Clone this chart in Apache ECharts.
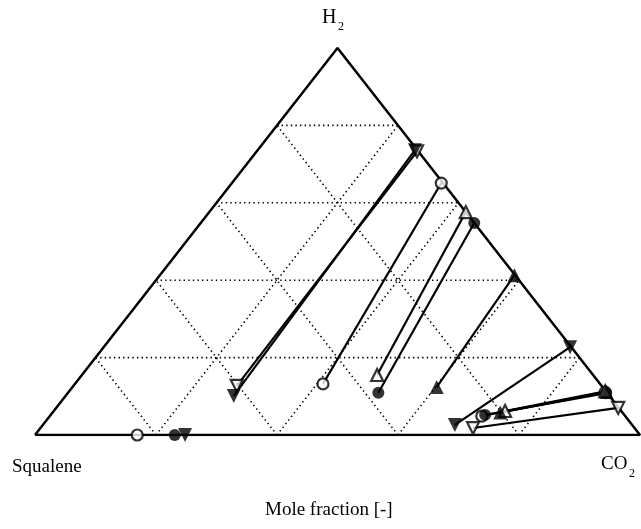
<!DOCTYPE html>
<html>
<head>
<meta charset="utf-8">
<script src="https://cdn.jsdelivr.net/npm/echarts@6/dist/echarts.min.js"></script>
<style>
  html, body { margin: 0; padding: 0; background: #fff; }
  #chart { width: 641px; height: 529px; }
</style>
</head>
<body>
<div id="chart"></div>
<script>
// Ternary phase diagram: H2 (top), Squalene (bottom left), CO2 (bottom right).
// Each composition is given as [H2, CO2] mole fractions; Squalene = 1 - H2 - CO2.

const gridLevels = [0.2, 0.4, 0.6, 0.8];

// Tie lines: liquid-phase composition and coexisting gas-phase composition.
const fullDownLiquid = [[0.101, 0.278], [0.026, 0.681]];
const fullDownGas    = [[0.736, 0.260], [0.227, 0.771]];

const openDownLiquid = [[0.127, 0.270], [0.018, 0.715]];
const openDownGas    = [[0.733, 0.265], [0.070, 0.929]];

const openCircleLiquid = [[0.132, 0.410], [0.049, 0.714]];
const openCircleGas    = [[0.651, 0.346], [0.111, 0.887]];

const fullCircleLiquid = [[0.109, 0.513], [0.052, 0.718]];
const fullCircleGas    = [[0.548, 0.452], [0.108, 0.890]];

const openUpLiquid = [[0.155, 0.488], [0.062, 0.746]];
const openUpGas    = [[0.576, 0.424], [0.113, 0.886]];

const fullUpLiquid = [[0.124, 0.602], [0.058, 0.740]];
const fullUpGas    = [[0.413, 0.586], [0.111, 0.889]];

// CO2 solubility in squalene without H2 (points on the Squalene-CO2 edge).
const binaryOpenCircle = [[0, 0.169]];
const binaryFullCircle = [[0, 0.231]];
const binaryFullDown   = [[0, 0.248]];

// ternary [H2, CO2] -> cartesian data coordinates of the triangle
function toXY(p) {
  const h = p[0], c = p[1];
  return [c + h / 2, h];
}

const series = [];

// dotted grid lines
gridLevels.forEach(function (k) {
  const segs = [
    [[k, 0], [k, 1 - k]],          // horizontal: H2 = k
    [[0, k], [1 - k, k]],          // CO2 = k
    [[0, 1 - k], [1 - k, 0]]       // Squalene = k
  ];
  segs.forEach(function (s) {
    series.push({
      type: 'line', silent: true, symbol: 'none', animation: false,
      data: s.map(toXY),
      lineStyle: { color: '#000', width: 1.6, type: [1.4, 3.2] },
      z: 1
    });
  });
});

// triangle frame
series.push({
  type: 'line', silent: true, symbol: 'none', animation: false,
  data: [[0, 0], [0, 1], [1, 0], [0, 0]].map(toXY),
  lineStyle: { color: '#000', width: 2.5 },
  z: 2
});

const markerSets = [
  { liq: fullDownLiquid, gas: fullDownGas, bin: binaryFullDown, symbol: 'triangle', rotate: 180, filled: true, size: 14, z: 6 },
  { liq: openDownLiquid, gas: openDownGas, bin: [], symbol: 'triangle', rotate: 180, filled: false, size: 12, z: 4 },
  { liq: openCircleLiquid, gas: openCircleGas, bin: binaryOpenCircle, symbol: 'circle', rotate: 0, filled: false, size: 11, z: 4 },
  { liq: fullCircleLiquid, gas: fullCircleGas, bin: binaryFullCircle, symbol: 'circle', rotate: 0, filled: true, size: 12, z: 4 },
  { liq: openUpLiquid, gas: openUpGas, bin: [], symbol: 'triangle', rotate: 0, filled: false, size: 12, z: 4 },
  { liq: fullUpLiquid, gas: fullUpGas, bin: [], symbol: 'triangle', rotate: 0, filled: true, size: 14, z: 5 }
];

markerSets.forEach(function (m) {
  m.liq.forEach(function (l, i) {
    series.push({
      type: 'line', silent: true, symbol: 'none', animation: false,
      data: [toXY(l), toXY(m.gas[i])],
      lineStyle: { color: '#000', width: 2.2 },
      z: 3
    });
  });
  series.push({
    type: 'scatter', animation: false,
    symbol: m.symbol, symbolRotate: m.rotate, symbolSize: m.size,
    data: m.liq.concat(m.gas, m.bin).map(toXY),
    itemStyle: {
      color: m.filled ? '#000' : '#fff',
      borderColor: '#000', borderWidth: m.filled ? 0 : 2.2
    },
    z: m.z
  });
});

const serif = "'Liberation Serif', 'DejaVu Serif', serif";

const chart = echarts.init(document.getElementById('chart'), null, { renderer: 'canvas' });
chart.setOption({
  backgroundColor: '#fff',
  animation: false,
  grid: { left: 35, right: 1, top: 48, bottom: 94, containLabel: false },
  xAxis: { type: 'value', min: 0, max: 1, show: false },
  yAxis: { type: 'value', min: 0, max: 1, show: false },
  series: series,
  graphic: [
    { type: 'text', left: 322, top: 8, style: { text: 'H', font: '20px ' + serif, fill: '#000' } },
    { type: 'text', left: 338, top: 21, style: { text: '2', font: '12px ' + serif, fill: '#000' } },
    { type: 'text', left: 12, top: 458, style: { text: 'Squalene', font: '19px ' + serif, fill: '#000' } },
    { type: 'text', left: 601, top: 455, style: { text: 'CO', font: '19px ' + serif, fill: '#000' } },
    { type: 'text', left: 629, top: 468, style: { text: '2', font: '12px ' + serif, fill: '#000' } },
    { type: 'text', left: 265, top: 501, style: { text: 'Mole fraction [-]', font: '19px ' + serif, fill: '#000' } }
  ]
});
</script>
</body>
</html>
